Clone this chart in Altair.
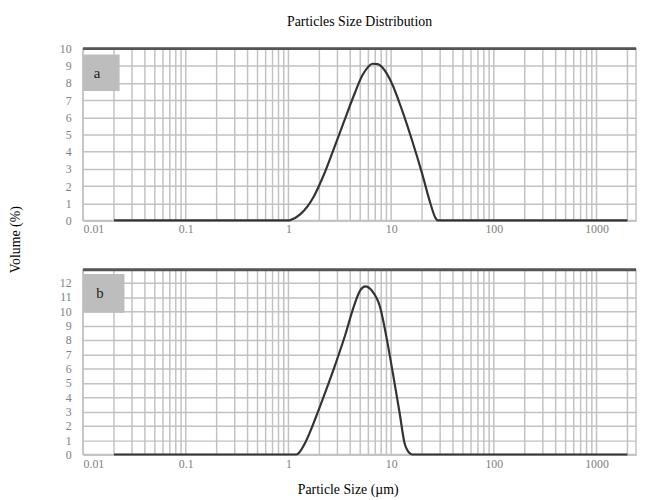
import altair as alt
import pandas as pd

TITLE = "Particles Size Distribution"
X_TITLE = "Particle Size (µm)"
Y_TITLE = "Volume (%)"

X_MIN, X_MAX = 0.01, 2425
X_LABELS = [0.01, 0.1, 1, 10, 100, 1000]
GRID_DECADES = [0.01, 0.1, 1, 10, 100, 1000]
GRID_STEPS = [1, 2, 3, 4, 5, 6, 7, 8, 9]
GRID_LIMIT = 2000

# panel a
A_SIZE = [0.02, 1.0, 1.04, 1.3, 1.75, 2.19, 2.73, 3.4, 4.25, 5.3, 6.0, 6.6, 7.4,
          8.3, 10.3, 12.8, 16.0, 20.0, 24.1, 27.0, 28.5, 2000]
A_VOL = [0, 0, 0.02, 0.35, 1.35, 2.6, 4.08, 5.6, 7.14, 8.49, 8.95, 9.12, 9.1,
         8.87, 7.9, 6.4, 4.65, 2.74, 1.0, 0.15, 0, 0]
A_YMAX = 10
A_YTICKS = [0, 1, 2, 3, 4, 5, 6, 7, 8, 9, 10]
A_BOX_X = [0.01, 0.0227]
A_BOX_Y = [7.53, 9.66]
A_TAG = "a"
A_TAG_XY = [0.0137, 8.55]

# panel b
B_SIZE = [0.02, 1.2, 1.28, 1.48, 1.85, 2.3, 2.88, 3.59, 4.31, 5.0, 5.6, 6.46,
          7.8, 9.0, 10.4, 12.1, 13.5, 15.1, 16.0, 2000]
B_VOL = [0, 0, 0.16, 0.92, 2.6, 4.4, 6.35, 8.4, 10.3, 11.46, 11.74, 11.46,
         10.3, 8.2, 5.67, 2.9, 0.8, 0.1, 0, 0]
B_YMAX = 12.9
B_YTICKS = [0, 1, 2, 3, 4, 5, 6, 7, 8, 9, 10, 11, 12]
B_BOX_X = [0.01, 0.0253]
B_BOX_Y = [9.9, 12.6]
B_TAG = "b"
B_TAG_XY = [0.0146, 11.3]

GRID = "#c2c2c2"
FONT = "Liberation Serif"
WIDTH = 560

grid_vals = [d * s for d in GRID_DECADES for s in GRID_STEPS if d * s <= GRID_LIMIT]
grid_df = pd.DataFrame({"g": grid_vals})


def panel(size, vol, ymax, yticks, height, box_x, box_y, tag, tag_xy, top):
    xs = alt.Scale(type="log", domain=[X_MIN, X_MAX], nice=False)
    ys = alt.Scale(domain=[0, ymax], nice=False, zero=True)

    xaxis = alt.Axis(values=X_LABELS, format="~g", grid=False, ticks=False,
                     domain=True, domainColor=GRID, domainWidth=1.5,
                     labelFont=FONT, labelFontSize=12, labelColor="#808080",
                     labelPadding=3 if top else 4,
                     title=None if top else X_TITLE,
                     titleFont=FONT, titleFontSize=14, titleFontWeight="normal",
                     titleColor="black", titlePadding=14, titleX=268)
    if top:
        yaxis = alt.Axis(values=yticks, format="d", grid=True, gridColor=GRID,
                         gridWidth=1.5, ticks=False, domain=False,
                         labelFont=FONT, labelFontSize=12, labelColor="#808080",
                         labelPadding=12, title=Y_TITLE, titleFont=FONT,
                         titleFontSize=14, titleFontWeight="normal",
                         titleColor="black", titleAngle=270, titleX=-68,
                         titleY=193, titleAlign="center", titleBaseline="middle")
    else:
        yaxis = alt.Axis(values=yticks, format="d", grid=True, gridColor=GRID,
                         gridWidth=1.5, ticks=False, domain=False,
                         labelFont=FONT, labelFontSize=12, labelColor="#808080",
                         labelPadding=12, title=None)

    grid = alt.Chart(grid_df).mark_rule(color=GRID, strokeWidth=1.5).encode(
        x=alt.X("g:Q", scale=xs, axis=xaxis))
    box = alt.Chart(pd.DataFrame({"x": [box_x[0]], "x2": [box_x[1]],
                                  "y": [box_y[0]], "y2": [box_y[1]]})).mark_rect(
        color="#bdbdbd").encode(
        x=alt.X("x:Q", scale=xs, axis=xaxis), x2="x2:Q",
        y=alt.Y("y:Q", scale=ys, axis=yaxis), y2="y2:Q")
    topline = alt.Chart(pd.DataFrame({"t": [ymax]})).mark_rule(
        color="#555555", strokeWidth=3).encode(y=alt.Y("t:Q", scale=ys, axis=yaxis))
    line = alt.Chart(pd.DataFrame({"size": size, "vol": vol})).mark_line(
        color="#333333", strokeWidth=2.2, interpolate="monotone").encode(
        x=alt.X("size:Q", scale=xs, axis=xaxis),
        y=alt.Y("vol:Q", scale=ys, axis=yaxis))
    label = alt.Chart(pd.DataFrame({"x": [tag_xy[0]], "y": [tag_xy[1]], "t": [tag]})).mark_text(
        font=FONT, fontSize=15, color="#222222").encode(
        x=alt.X("x:Q", scale=xs, axis=xaxis), y=alt.Y("y:Q", scale=ys, axis=yaxis), text="t:N")

    ch = alt.layer(grid, box, topline, line, label).properties(width=WIDTH, height=height)
    if top:
        ch = ch.properties(title=alt.TitleParams(TITLE, font=FONT, fontSize=14,
                                                 fontWeight="normal", color="black",
                                                 anchor="middle", offset=14))
    return ch


top = panel(A_SIZE, A_VOL, A_YMAX, A_YTICKS, 174, A_BOX_X, A_BOX_Y, A_TAG, A_TAG_XY, True)
bottom = panel(B_SIZE, B_VOL, B_YMAX, B_YTICKS, 187, B_BOX_X, B_BOX_Y, B_TAG, B_TAG_XY, False)

chart = alt.vconcat(top, bottom, spacing=50, bounds="flush").properties(
    padding={"left": 0, "top": 3, "right": 0, "bottom": 0}
).configure_view(stroke=GRID, strokeWidth=1.5)

chart.save("out.html", embed_options={"renderer": "svg", "actions": False})
